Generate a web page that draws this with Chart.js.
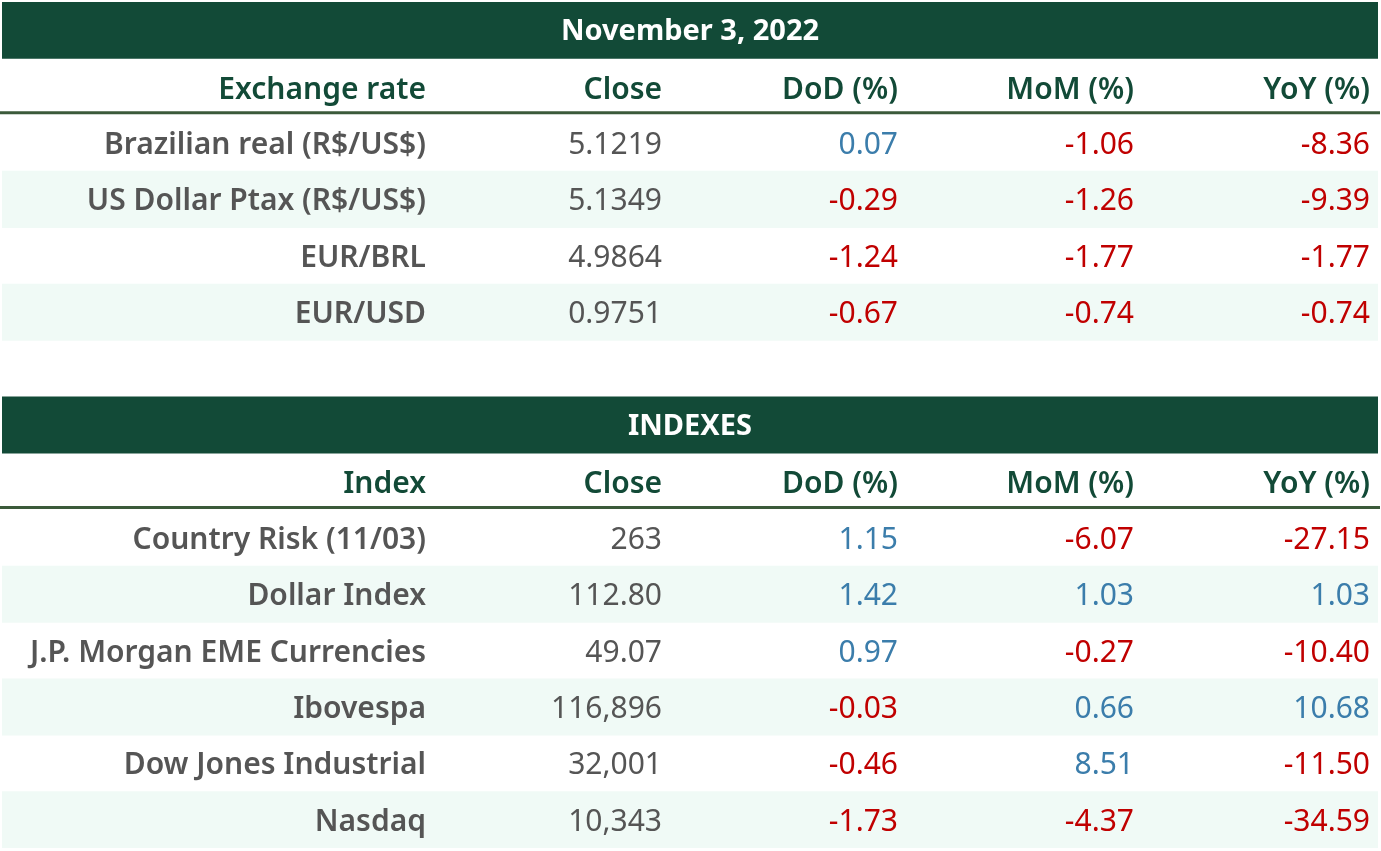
<!DOCTYPE html>
<html lang="en">
<head>
<meta charset="UTF-8">
<title>Market table - November 3, 2022</title>
<script src="https://cdn.jsdelivr.net/npm/chart.js"></script>
<style>
  html, body { margin: 0; padding: 0; background: #fff; }
  .wrap { width: 1381px; height: 851px; position: relative; }
</style>
</head>
<body>
<div class="wrap"><canvas id="table"></canvas></div>
<script>
// --- data ---
const title1 = 'November 3, 2022';
const title2 = 'INDEXES';
const fxHeader = ['Exchange rate', 'Close', 'DoD (%)', 'MoM (%)', 'YoY (%)'];
const idxHeader = ['Index', 'Close', 'DoD (%)', 'MoM (%)', 'YoY (%)'];

const fxLabels = ['Brazilian real (R$/US$)', 'US Dollar Ptax (R$/US$)', 'EUR/BRL', 'EUR/USD'];
const fxClose = ['5.1219', '5.1349', '4.9864', '0.9751'];
const fxDoD = [0.07, -0.29, -1.24, -0.67];
const fxMoM = [-1.06, -1.26, -1.77, -0.74];
const fxYoY = [-8.36, -9.39, -1.77, -0.74];

const idxLabels = ['Country Risk (11/03)', 'Dollar Index', 'J.P. Morgan EME Currencies', 'Ibovespa', 'Dow Jones Industrial', 'Nasdaq'];
const idxClose = ['263', '112.80', '49.07', '116,896', '32,001', '10,343'];
const idxDoD = [1.15, 1.42, 0.97, -0.03, -0.46, -1.73];
const idxMoM = [-6.07, 1.03, -0.27, 0.66, 8.51, -4.37];
const idxYoY = [-27.15, 1.03, -10.40, 10.68, -11.50, -34.59];

// column boundaries in table units
const colEdges = [0, 432, 668, 904, 1140, 1376];

const GREEN = '#124a37';
const MINT = '#f0faf6';
const GRAY = '#555555';
const BLUE = '#3b7dab';
const RED = '#c00000';
const FONT = '"Noto Sans", sans-serif';

// build rows: each row is {type, ...}
const rows = [];
rows.push({ type: 'title', text: title1 });
rows.push({ type: 'head', cells: fxHeader });
fxLabels.forEach((l, i) => rows.push({ type: 'data', cells: [l, fxClose[i], fxDoD[i], fxMoM[i], fxYoY[i]], shade: i % 2 === 1 }));
rows.push({ type: 'gap' });
rows.push({ type: 'title', text: title2 });
rows.push({ type: 'head', cells: idxHeader });
idxLabels.forEach((l, i) => rows.push({ type: 'data', cells: [l, idxClose[i], idxDoD[i], idxMoM[i], idxYoY[i]], shade: i % 2 === 1 }));

const rowKeys = rows.map((r, i) => 'r' + i);
const bandData = rows.map(r => (r.type === 'title' || r.shade) ? [colEdges[0], colEdges[5]] : null);
const bandColors = rows.map(r => r.type === 'title' ? GREEN : MINT);

const tablePlugin = {
  id: 'tableText',
  afterDatasetsDraw(chart) {
    const ctx = chart.ctx;
    const xs = chart.scales.x;
    const ys = chart.scales.y;
    const band = ys.height / rows.length;
    ctx.save();
    ctx.textBaseline = 'middle';
    rows.forEach((r, i) => {
      const cy = ys.getPixelForValue(i) + 2.5;
      if (r.type === 'title') {
        ctx.fillStyle = '#ffffff';
        ctx.font = 'bold 29px ' + FONT;
        ctx.textAlign = 'center';
        ctx.fillText(r.text, xs.getPixelForValue((colEdges[0] + colEdges[5]) / 2), cy - 1);
      } else if (r.type === 'head') {
        ctx.fillStyle = GREEN;
        ctx.font = '600 30px ' + FONT;
        ctx.textAlign = 'right';
        r.cells.forEach((c, j) => ctx.fillText(c, xs.getPixelForValue(colEdges[j + 1]) - 8, cy + 1));
        const ly = ys.getPixelForValue(i) + band / 2 - 2;
        ctx.strokeStyle = '#3b5a3a';
        ctx.lineWidth = 3;
        ctx.beginPath();
        ctx.moveTo(xs.getPixelForValue(colEdges[0]) - 2, ly);
        ctx.lineTo(xs.getPixelForValue(colEdges[5]) + 2, ly);
        ctx.stroke();
      } else if (r.type === 'data') {
        ctx.textAlign = 'right';
        r.cells.forEach((c, j) => {
          const x = xs.getPixelForValue(colEdges[j + 1]) - 8;
          if (j === 0) {
            ctx.font = '600 30px ' + FONT;
            ctx.fillStyle = GRAY;
            ctx.fillText(c, x, cy);
          } else if (j === 1) {
            ctx.font = '30px ' + FONT;
            ctx.fillStyle = GRAY;
            ctx.fillText(c, x, cy);
          } else {
            ctx.font = '30px ' + FONT;
            ctx.fillStyle = c < 0 ? RED : BLUE;
            ctx.fillText(c.toFixed(2), x, cy);
          }
        });
      }
    });
    ctx.restore();
  }
};

new Chart(document.getElementById('table'), {
  type: 'bar',
  data: {
    labels: rowKeys,
    datasets: [{
      data: bandData,
      backgroundColor: bandColors,
      borderWidth: 0,
      barPercentage: 1,
      categoryPercentage: 1
    }]
  },
  options: {
    indexAxis: 'y',
    responsive: true,
    maintainAspectRatio: false,
    animation: false,
    layout: { padding: { left: 2, right: 3, top: 2, bottom: 3 } },
    plugins: { legend: { display: false }, tooltip: { enabled: false } },
    scales: {
      x: { type: 'linear', min: colEdges[0], max: colEdges[5], display: false },
      y: { type: 'category', offset: true, display: false, grid: { display: false } }
    }
  },
  plugins: [tablePlugin]
});
</script>
</body>
</html>
